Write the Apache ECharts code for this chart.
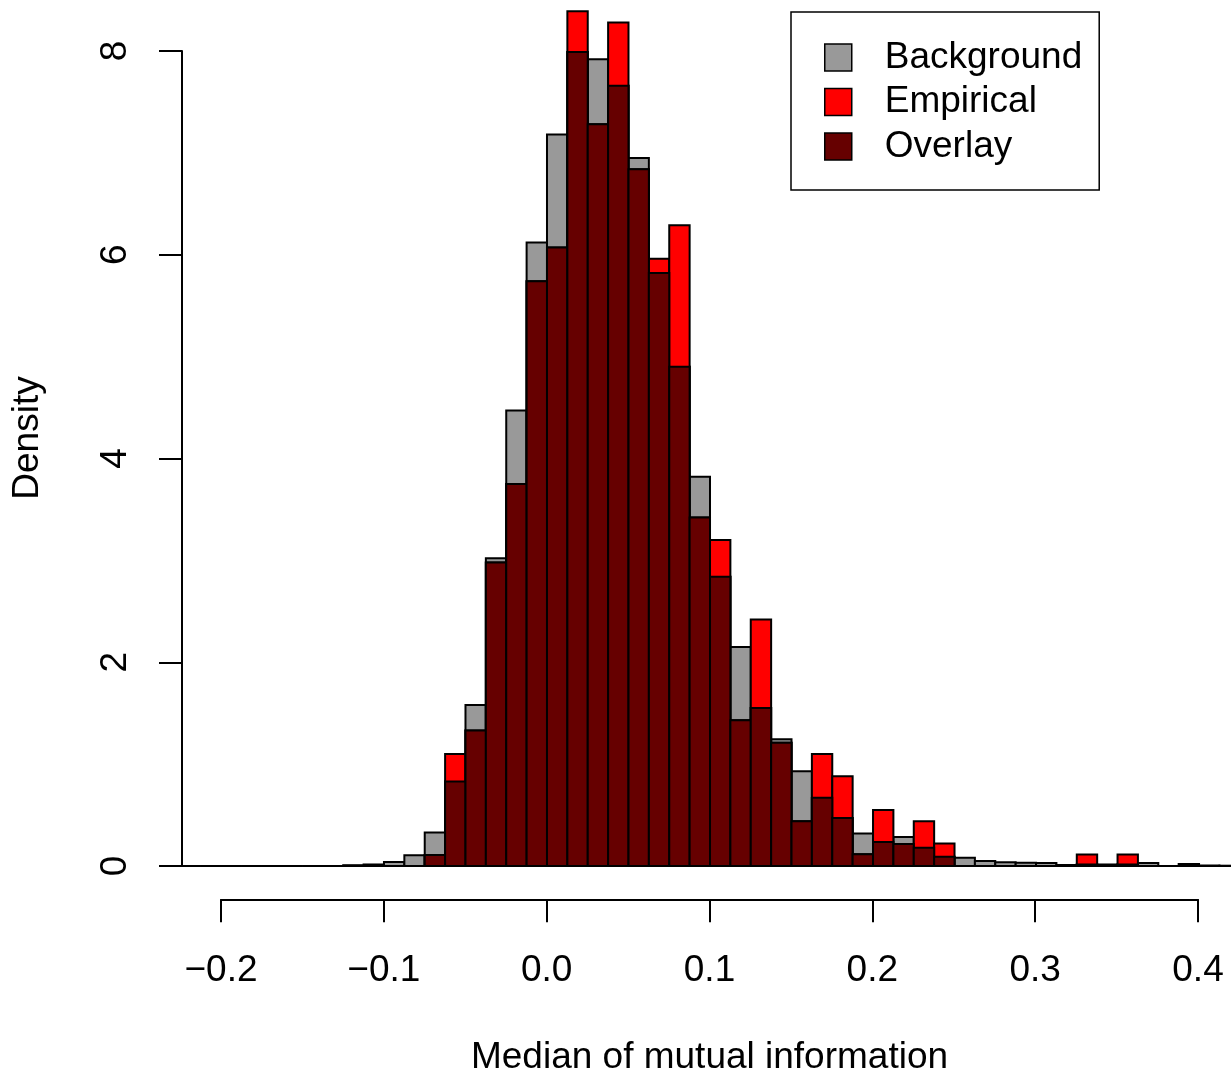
<!DOCTYPE html>
<html>
<head>
<meta charset="utf-8">
<script src="https://cdn.jsdelivr.net/npm/echarts@6/dist/echarts.min.js"></script>
<style>
html,body{margin:0;padding:0;background:#fff;}
#chart{width:1231px;height:1074px;}
</style>
</head>
<body>
<div id="chart"></div>
<script>
// Histogram breaks (bin edges)
const breaks = [-0.225,-0.2125,-0.2,-0.1875,-0.175,-0.1625,-0.15,-0.1375,-0.125,-0.1125,
  -0.1,-0.0875,-0.075,-0.0625,-0.05,-0.0375,-0.025,-0.0125,0,0.0125,
  0.025,0.0375,0.05,0.0625,0.075,0.0875,0.1,0.1125,0.125,0.1375,
  0.15,0.1625,0.175,0.1875,0.2,0.2125,0.225,0.2375,0.25,0.2625,
  0.275,0.2875,0.3,0.3125,0.325,0.3375,0.35,0.3625,0.375,0.3875,
  0.4,0.4125,0.425];
// Density of the background distribution per bin
const background = [0,0,0,0,0,0,0,0,0.008,0.015,
  0.04,0.105,0.33,0.83,1.58,3.02,4.47,6.12,7.18,7.99,
  7.92,7.66,6.95,5.82,4.90,3.82,2.84,2.15,1.55,1.245,
  0.93,0.67,0.47,0.32,0.235,0.285,0.18,0.09,0.08,0.05,
  0.036,0.033,0.03,0.01,0.015,0.015,0.015,0.03,0,0.02,
  0.005,0.003];
// Density of the empirical distribution per bin
const empirical = [0,0,0,0,0,0,0,0,0,0,
  0,0,0.108,1.10,1.33,2.98,3.75,5.74,6.07,8.39,
  7.28,8.28,6.84,5.96,6.29,3.42,3.20,1.43,2.42,1.21,
  0.44,1.10,0.88,0.115,0.55,0.215,0.44,0.22,0,0,
  0,0,0,0,0.114,0,0.114,0,0,0,
  0,0];
const xTicks = [-0.2,-0.1,0.0,0.1,0.2,0.3,0.4];
const yTicks = [0,2,4,6,8];
const seriesNames = ['Background','Empirical','Overlay'];
const colors = ['#999999','#FF0000','#660000'];

const overlay = background.map((v,i)=>Math.min(v, empirical[i]));
function toBins(vals){ return vals.map((v,i)=>[breaks[i], breaks[i+1], v]); }

const FONT = 'Liberation Sans, Arial, Helvetica, sans-serif';
const FS = 37;

function renderBar(params, api){
  const p0 = api.coord([api.value(0), 0]);
  const p1 = api.coord([api.value(1), api.value(2)]);
  return {
    type:'rect',
    shape:{x:p0[0], y:p1[1], width:p1[0]-p0[0], height:p0[1]-p1[1]},
    style: api.style({stroke:'#000', lineWidth:2})
  };
}

const chart = echarts.init(document.getElementById('chart'), null, {renderer:'canvas'});
const option = {
  backgroundColor:'#fff',
  animation:false,
  textStyle:{fontFamily:FONT},
  grid:[
    {left:182, right:0, top:51, bottom:208, containLabel:false},
    {left:221, right:33, top:899, height:1, containLabel:false}
  ],
  xAxis:[
    {gridIndex:0, type:'value', min:-0.2239, max:0.4196, show:false},
    {gridIndex:1, type:'value', min:xTicks[0], max:xTicks[xTicks.length-1], interval:0.1,
     position:'bottom',
     axisLine:{show:true, onZero:false, lineStyle:{color:'#000', width:2}},
     axisTick:{show:true, inside:false, length:23, lineStyle:{color:'#000', width:2}},
     splitLine:{show:false},
     axisLabel:{show:true, margin:53, fontSize:FS, color:'#000', fontFamily:FONT,
       formatter:function(v){ const r=Math.round(v*10)/10; return (r<0?'\u2212':'')+Math.abs(r).toFixed(1); }},
     name:'Median of mutual information', nameLocation:'middle', nameGap:140,
     nameTextStyle:{fontSize:FS, color:'#000', fontFamily:FONT}
    }
  ],
  yAxis:[
    {gridIndex:0, type:'value', min:yTicks[0], max:yTicks[yTicks.length-1], interval:2,
     position:'left',
     axisLine:{show:true, onZero:false, lineStyle:{color:'#000', width:2}},
     axisTick:{show:true, inside:false, length:23, lineStyle:{color:'#000', width:2}},
     splitLine:{show:false},
     axisLabel:{show:true, rotate:90, margin:48, fontSize:FS, color:'#000', fontFamily:FONT}
    },
    {gridIndex:1, type:'value', min:0, max:1, show:false}
  ],
  legend:{
    data:seriesNames,
    orient:'vertical',
    left:791, top:12,
    padding:[27,17,25,33],
    itemGap:7.5,
    itemWidth:27, itemHeight:27,
    icon:'rect',
    borderColor:'#000', borderWidth:1.5, borderRadius:0,
    backgroundColor:'#fff',
    itemStyle:{borderColor:'#000', borderWidth:1.5},
    textStyle:{fontSize:FS, color:'#000', fontFamily:FONT, lineHeight:37, padding:[0,0,0,28]},
    selectedMode:false
  },
  graphic:[
    {type:'text', x:28, y:438, rotation:Math.PI/2,
     style:{text:'Density', fontSize:FS, fontFamily:FONT, fill:'#000', textAlign:'center', textVerticalAlign:'middle'}}
  ],
  series: [background, empirical, overlay].map((vals, k)=>({
    name: seriesNames[k],
    type:'custom',
    xAxisIndex:0, yAxisIndex:0,
    renderItem: renderBar,
    clip:false,
    itemStyle:{color:colors[k], borderColor:'#000', borderWidth:2},
    encode:{x:[0,1], y:2},
    data: toBins(vals),
    z: 2+k
  }))
};
chart.setOption(option);
</script>
</body>
</html>
